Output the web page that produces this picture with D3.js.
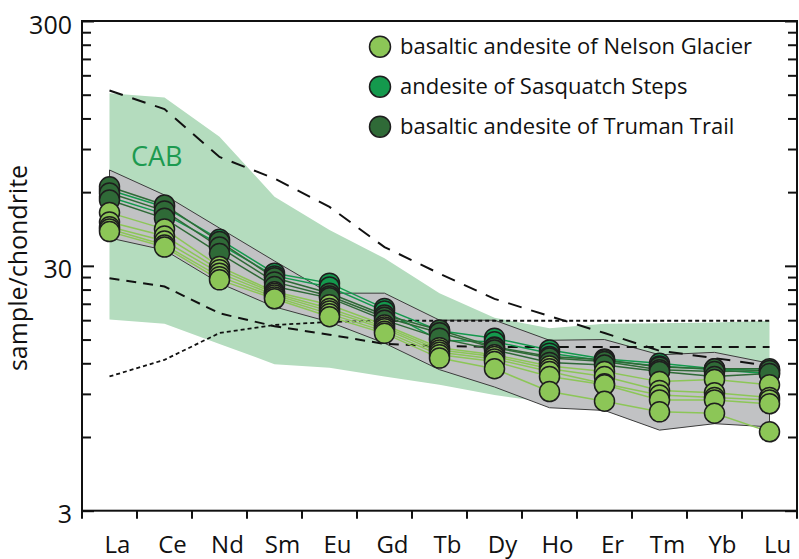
<!DOCTYPE html>
<html><head><meta charset="utf-8">
<script src="https://cdn.jsdelivr.net/npm/d3@7"></script>
<style>
html,body{margin:0;padding:0;background:#fff;}
svg{display:block;font-family:"Open Sans",sans-serif;}
</style></head><body>
<svg id="chart" width="799" height="559"></svg>
<script>
// Rare earth elements, chondrite-normalised
const elements = ["La","Ce","Nd","Sm","Eu","Gd","Tb","Dy","Ho","Er","Tm","Yb","Lu"];

// Calc-alkaline basalt (CAB) field
const cabUpper = [152,146,101,57.5,42.0,32.2,23.2,18.4,16.7,17.4,17.5,17.6,17.9];
const cabLower = [18.1,17.4,14.4,11.9,11.5,10.6,9.8,8.9,8.3,8.1,7.8,7.5,7.3];

// Envelope of the samples (grey field)
const envUpper = [73.9,58.4,42.8,31.4,23.2,23.2,18.0,18.0,14.9,15.0,13.0,13.3,12.0];
const envLower = [39.0,34.8,25.5,20.4,17.7,14.5,11.3,9.6,7.9,7.7,6.4,6.8,6.6];

// Reference patterns
const oib   = [156,131,83.5,68.2,52.2,35.8,27.9,22.0,18.7,15.95,13.5,12.6,11.7];
const emorb = [26.7,24.7,19.2,17.0,15.7,14.4,14.1,14.0,14.0,14.0,14.0,14.0,14.0];
const nmorb = [10.6,12.4,15.95,17.2,17.7,17.9,17.9,17.9,17.9,17.9,17.9,17.9,17.9];

// Samples
const sasquatchSteps = [
  [61.2,52.2,38.5,28.0,25.5,20.1,16.3,15.2,13.6,12.5,12.0,11.4,11.2],
  [57.3,48.8,36.8,27.3,24.6,19.6,14.9,14.7,13.2,12.3,11.7,11.3,10.9]
];
const trumanTrail = [
  [63.1,53.2,37.7,26.8,23.2,18.9,16.4,14.0,12.8,12.4,11.6,11.4,11.4],
  [59.5,50.3,35.8,25.8,22.6,18.5,16.0,13.9,12.6,12.2,11.3,11.1,11.2],
  [55.7,46.9,33.7,24.7,22.2,18.0,15.2,13.6,12.1,11.8,11.1,10.6,10.9]
];
const nelsonGlacier = [
  [49.5,42.4,29.8,23.5,20.8,17.2,13.9,13.0,11.7,11.1,10.1,10.3,9.8],
  [45.3,39.7,28.9,23.2,20.1,16.9,13.6,12.8,11.4,10.6,9.3,9.1,8.7],
  [43.3,37.9,28.0,22.8,19.6,16.6,13.3,12.5,11.1,9.9,8.9,8.7,8.5],
  [42.4,36.5,27.1,22.4,19.1,16.2,13.0,12.2,10.6,9.8,8.5,8.5,8.2],
  [41.4,35.8,26.3,22.0,18.6,15.9,12.6,11.4,9.2,8.4,7.6,7.5,6.3]
];

const majorTicks = [3, 30, 300];
const minorTicks = [6,9,12,15,18,21,24,27,60,90,120,150,180,210,240,270];

const groups = [
  {name: "basaltic andesite of Nelson Glacier", color: "#8cc657", samples: nelsonGlacier},
  {name: "andesite of Sasquatch Steps", color: "#14994d", samples: sasquatchSteps},
  {name: "basaltic andesite of Truman Trail", color: "#2f6a37", samples: trumanTrail}
];
// circles are stacked: Sasquatch Steps, then Truman Trail, then Nelson Glacier on top
const drawOrder = [1, 2, 0];

const svg = d3.select("#chart");
const L = 82, R = 797, T = 21, B = 510.7;

const x = d3.scaleBand().domain(elements).range([L, R]);
const y = d3.scaleLog().domain([3, 300]).range([B, T]);
const cx = i => x(elements[i]) + x.bandwidth() / 2;

// CAB field
const field = (lo, hi) => d3.area()
  .x((d, i) => cx(i)).y0((d, i) => y(lo[i])).y1((d, i) => y(hi[i]))(elements);
svg.append("path").attr("d", field(cabLower, cabUpper)).attr("fill", "#b4dcbe");
svg.append("text").attr("x", 131).attr("y", 166).attr("fill", "#1d9a50")
  .attr("font-size", 27).text("CAB");

// sample envelope
svg.append("path").attr("d", field(envLower, envUpper))
  .attr("fill", "#c1c2c4").attr("stroke", "#3c3c3c").attr("stroke-width", 1);

// reference patterns
const line = d3.line().x((d, i) => cx(i)).y(d => y(d));
svg.append("path").attr("d", line(oib)).attr("fill", "none")
  .attr("stroke", "#111").attr("stroke-width", 2).attr("stroke-dasharray", "14,10");
svg.append("path").attr("d", line(emorb)).attr("fill", "none")
  .attr("stroke", "#111").attr("stroke-width", 2).attr("stroke-dasharray", "10,7");
svg.append("path").attr("d", line(nmorb)).attr("fill", "none")
  .attr("stroke", "#111").attr("stroke-width", 1.8).attr("stroke-dasharray", "4,3");

// sample patterns
drawOrder.forEach(g => {
  groups[g].samples.forEach(s => {
    svg.append("path").attr("d", line(s)).attr("fill", "none")
      .attr("stroke", groups[g].color).attr("stroke-width", 1.5);
  });
});
drawOrder.forEach(g => {
  groups[g].samples.forEach(s => {
    svg.append("g").selectAll("circle").data(s).join("circle")
      .attr("cx", (d, i) => cx(i)).attr("cy", d => y(d)).attr("r", 10)
      .attr("fill", groups[g].color).attr("stroke", "#1e1e1e").attr("stroke-width", 1.5);
  });
});

// frame and axes
svg.append("rect").attr("x", L).attr("y", T).attr("width", R - L).attr("height", B - T)
  .attr("fill", "none").attr("stroke", "#111").attr("stroke-width", 2);

const styleAxis = g => {
  g.select(".domain").remove();
  g.selectAll(".tick line").attr("stroke", "#111").attr("stroke-width", 2);
};
svg.append("g").attr("transform", `translate(${L},0)`)
  .call(d3.axisLeft(y).tickValues(minorTicks).tickSize(-9).tickFormat(""))
  .call(styleAxis);
svg.append("g").attr("transform", `translate(${L},0)`)
  .call(d3.axisLeft(y).tickValues(majorTicks).tickSize(-12).tickPadding(10).tickFormat(d3.format("d")))
  .call(styleAxis)
  .call(g => g.selectAll("text").attr("font-size", 25).attr("fill", "#111")
    .attr("font-family", "Open Sans").attr("dy", "0.48em"));
svg.append("g").attr("transform", `translate(${R},0)`)
  .call(d3.axisRight(y).tickValues(minorTicks).tickSize(-9).tickFormat(""))
  .call(styleAxis);
svg.append("g").attr("transform", `translate(${R},0)`)
  .call(d3.axisRight(y).tickValues(majorTicks).tickSize(-12).tickFormat(""))
  .call(styleAxis);

// x ticks on band edges, labels in the bands
svg.append("g").selectAll("line").data(elements.map(e => x(e)).concat([R])).join("line")
  .attr("x1", d => d).attr("x2", d => d).attr("y1", B).attr("y2", B + 8)
  .attr("stroke", "#111").attr("stroke-width", 2);
svg.append("g").selectAll("text").data(elements).join("text")
  .attr("x", d => x(d) + x.bandwidth() / 2 + 8).attr("y", 553)
  .attr("text-anchor", "middle").attr("font-size", 24).attr("fill", "#111").text(d => d);

// axis title
svg.append("text").attr("transform", "translate(27,268) rotate(-90)")
  .attr("text-anchor", "middle").attr("font-size", 25).attr("fill", "#111")
  .text("sample/chondrite");

// legend
const legend = svg.append("g");
groups.forEach((g, i) => {
  legend.append("circle").attr("cx", 380).attr("cy", 46.7 + i * 40).attr("r", 10.5)
    .attr("fill", g.color).attr("stroke", "#1e1e1e").attr("stroke-width", 1.5);
  legend.append("text").attr("x", 400).attr("y", 54 + i * 40)
    .attr("font-size", 22).attr("fill", "#111").text(g.name);
});
</script></body></html>
